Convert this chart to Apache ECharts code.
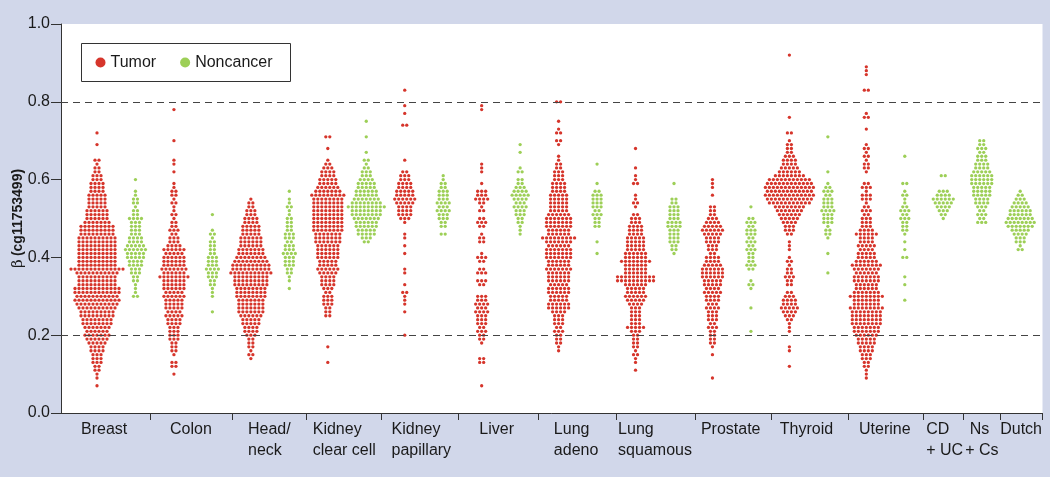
<!DOCTYPE html>
<html><head><meta charset="utf-8">
<script src="https://cdn.jsdelivr.net/npm/echarts@6/dist/echarts.min.js"></script>
<style>html,body{margin:0;padding:0;background:#d1d7ea;}#c{width:1050px;height:477px;}</style>
</head><body><div id="c"></div>
<script>
// ---------------- data ----------------
const categories = ['Breast','Colon','Head/\nneck','Kidney\nclear cell','Kidney\npapillary','Liver','Lung\nadeno','Lung\nsquamous','Prostate','Thyroid','Uterine','CD\n+ UC',' Ns\n+ Cs','Dutch'];
const yTicks = [0.0, 0.2, 0.4, 0.6, 0.8, 1.0];
const thresholds = [0.2, 0.8];
// each entry: [beta value, number of samples at that value]
const breastTumor = [[0.07,1],[0.09,1],[0.10,1],[0.11,2],[0.12,2],[0.13,3],[0.14,3],[0.15,3],[0.16,4],[0.17,4],[0.18,5],[0.19,6],[0.20,7],[0.21,6],[0.22,7],[0.23,8],[0.24,8],[0.25,9],[0.26,9],[0.27,10],[0.28,11],[0.29,12],[0.30,11],[0.31,12],[0.32,12],[0.33,10],[0.34,10],[0.35,10],[0.36,11],[0.37,14],[0.38,10],[0.39,10],[0.40,10],[0.41,10],[0.42,10],[0.43,10],[0.44,10],[0.45,10],[0.46,9],[0.47,9],[0.48,9],[0.49,7],[0.50,6],[0.51,6],[0.52,6],[0.53,5],[0.54,5],[0.55,5],[0.56,5],[0.57,4],[0.58,4],[0.59,4],[0.60,3],[0.61,3],[0.62,2],[0.63,2],[0.64,1],[0.65,2],[0.69,1],[0.72,1]];
const colonTumor = [[0.10,1],[0.12,2],[0.13,2],[0.15,1],[0.16,2],[0.17,2],[0.18,2],[0.19,3],[0.20,3],[0.21,3],[0.22,3],[0.23,4],[0.24,4],[0.25,5],[0.26,4],[0.27,5],[0.28,5],[0.29,5],[0.30,6],[0.31,5],[0.32,6],[0.33,6],[0.34,6],[0.35,8],[0.36,6],[0.37,7],[0.38,6],[0.39,6],[0.40,6],[0.41,5],[0.42,6],[0.43,4],[0.44,3],[0.45,3],[0.46,2],[0.47,3],[0.48,2],[0.49,2],[0.50,1],[0.51,2],[0.52,1],[0.53,1],[0.54,2],[0.55,1],[0.56,2],[0.57,2],[0.58,1],[0.59,1],[0.62,1],[0.64,1],[0.65,1],[0.70,1],[0.78,1]];
const headNeckTumor = [[0.14,1],[0.15,2],[0.16,1],[0.17,2],[0.18,2],[0.19,2],[0.20,3],[0.21,4],[0.22,4],[0.23,5],[0.24,5],[0.25,6],[0.26,7],[0.27,7],[0.28,7],[0.29,7],[0.30,8],[0.31,8],[0.32,8],[0.33,9],[0.34,9],[0.35,9],[0.36,11],[0.37,10],[0.38,10],[0.39,9],[0.40,8],[0.41,7],[0.42,7],[0.43,6],[0.44,6],[0.45,6],[0.46,5],[0.47,5],[0.48,5],[0.49,4],[0.50,4],[0.51,3],[0.52,3],[0.53,2],[0.54,2],[0.55,1]];
const kidneyClearTumor = [[0.13,1],[0.17,1],[0.25,2],[0.26,2],[0.27,2],[0.28,3],[0.29,3],[0.30,3],[0.31,2],[0.32,3],[0.33,4],[0.34,4],[0.35,4],[0.36,5],[0.37,6],[0.38,5],[0.39,5],[0.40,6],[0.41,6],[0.42,6],[0.43,6],[0.44,7],[0.45,7],[0.46,7],[0.47,8],[0.48,8],[0.49,8],[0.50,8],[0.51,8],[0.52,8],[0.53,8],[0.54,8],[0.55,8],[0.56,9],[0.57,7],[0.58,6],[0.59,5],[0.60,5],[0.61,4],[0.62,4],[0.63,3],[0.64,2],[0.65,1],[0.68,1],[0.71,2]];
const kidneyPapTumor = [[0.20,1],[0.26,1],[0.28,1],[0.29,1],[0.30,1],[0.31,2],[0.33,1],[0.36,1],[0.37,1],[0.41,1],[0.43,1],[0.45,1],[0.46,1],[0.49,1],[0.50,3],[0.51,4],[0.52,4],[0.53,4],[0.54,5],[0.55,6],[0.56,5],[0.57,5],[0.58,4],[0.59,4],[0.60,3],[0.61,3],[0.62,2],[0.65,1],[0.74,2],[0.77,1],[0.79,1],[0.83,1]];
const liverTumor = [[0.07,1],[0.13,2],[0.14,2],[0.18,1],[0.19,2],[0.20,2],[0.21,3],[0.22,2],[0.23,3],[0.24,3],[0.25,3],[0.26,4],[0.27,3],[0.28,4],[0.29,3],[0.30,3],[0.33,2],[0.34,3],[0.36,3],[0.37,2],[0.39,2],[0.40,3],[0.41,1],[0.44,2],[0.45,2],[0.46,1],[0.48,2],[0.49,3],[0.50,2],[0.52,2],[0.53,1],[0.54,2],[0.55,4],[0.56,3],[0.57,3],[0.59,1],[0.62,1],[0.63,1],[0.64,1],[0.78,1],[0.79,1]];
const lungAdenoTumor = [[0.16,1],[0.17,1],[0.18,2],[0.19,2],[0.20,2],[0.21,3],[0.22,2],[0.23,3],[0.24,3],[0.25,3],[0.26,4],[0.27,6],[0.28,6],[0.29,5],[0.30,5],[0.31,6],[0.32,6],[0.33,5],[0.34,6],[0.35,6],[0.36,6],[0.37,7],[0.38,6],[0.39,6],[0.40,7],[0.41,7],[0.42,7],[0.43,6],[0.44,7],[0.45,9],[0.46,6],[0.47,6],[0.48,7],[0.49,7],[0.50,7],[0.51,6],[0.52,5],[0.53,5],[0.54,5],[0.55,5],[0.56,5],[0.57,4],[0.58,4],[0.59,4],[0.60,3],[0.61,3],[0.62,3],[0.63,2],[0.64,2],[0.65,1],[0.66,1],[0.69,1],[0.70,2],[0.72,2],[0.73,1],[0.75,1],[0.80,2]];
const lungSqTumor = [[0.11,1],[0.13,1],[0.14,1],[0.15,2],[0.16,1],[0.17,2],[0.18,2],[0.19,2],[0.20,2],[0.21,3],[0.22,5],[0.23,3],[0.24,3],[0.25,3],[0.26,3],[0.27,3],[0.28,4],[0.29,5],[0.30,6],[0.31,5],[0.32,5],[0.33,6],[0.34,10],[0.35,10],[0.36,6],[0.37,6],[0.38,6],[0.39,8],[0.40,6],[0.41,6],[0.42,5],[0.43,5],[0.44,5],[0.45,5],[0.46,4],[0.47,4],[0.48,4],[0.49,3],[0.50,3],[0.51,2],[0.53,1],[0.54,2],[0.55,1],[0.56,1],[0.59,2],[0.60,1],[0.61,1],[0.63,1],[0.68,1]];
const prostateTumor = [[0.09,1],[0.15,1],[0.17,1],[0.18,2],[0.19,2],[0.20,2],[0.21,2],[0.22,3],[0.23,2],[0.24,3],[0.25,3],[0.26,3],[0.27,4],[0.28,3],[0.29,4],[0.30,4],[0.31,5],[0.32,4],[0.33,5],[0.34,5],[0.35,6],[0.36,6],[0.37,6],[0.38,5],[0.39,4],[0.40,4],[0.41,2],[0.42,3],[0.43,3],[0.44,4],[0.45,4],[0.46,5],[0.47,6],[0.48,5],[0.49,4],[0.50,3],[0.51,2],[0.52,2],[0.53,2],[0.56,1],[0.58,1],[0.59,1],[0.60,1]];
const thyroidTumor = [[0.12,1],[0.16,1],[0.17,1],[0.21,1],[0.22,1],[0.23,1],[0.24,2],[0.25,3],[0.26,4],[0.27,5],[0.28,4],[0.29,4],[0.30,3],[0.31,2],[0.33,2],[0.34,2],[0.35,3],[0.36,2],[0.37,2],[0.38,1],[0.39,2],[0.40,1],[0.42,1],[0.43,1],[0.44,1],[0.46,2],[0.47,3],[0.48,3],[0.49,4],[0.50,5],[0.51,6],[0.52,7],[0.53,8],[0.54,11],[0.55,12],[0.56,13],[0.57,12],[0.58,13],[0.59,12],[0.60,11],[0.61,8],[0.62,6],[0.63,5],[0.64,4],[0.65,4],[0.66,3],[0.67,2],[0.68,2],[0.69,2],[0.70,1],[0.72,2],[0.76,1],[0.92,1]];
const uterineTumor = [[0.09,1],[0.10,1],[0.11,1],[0.12,2],[0.13,2],[0.14,3],[0.15,3],[0.16,4],[0.17,4],[0.18,5],[0.19,5],[0.20,6],[0.21,7],[0.22,7],[0.23,8],[0.24,8],[0.25,8],[0.26,8],[0.27,9],[0.28,7],[0.29,7],[0.30,9],[0.31,7],[0.32,6],[0.33,6],[0.34,7],[0.35,7],[0.36,6],[0.37,7],[0.38,8],[0.39,6],[0.40,5],[0.41,5],[0.42,4],[0.43,5],[0.44,4],[0.45,4],[0.46,6],[0.47,4],[0.48,3],[0.49,3],[0.50,3],[0.51,2],[0.52,3],[0.53,2],[0.54,1],[0.55,3],[0.56,3],[0.57,1],[0.58,3],[0.59,2],[0.62,1],[0.63,2],[0.64,2],[0.65,1],[0.66,2],[0.67,1],[0.68,2],[0.69,1],[0.73,1],[0.76,2],[0.77,1],[0.83,2],[0.87,1],[0.88,1],[0.89,1]];

const breastNormal = [[0.30,2],[0.31,1],[0.32,1],[0.33,1],[0.34,2],[0.35,2],[0.36,3],[0.37,3],[0.38,4],[0.39,4],[0.40,5],[0.41,5],[0.42,6],[0.43,5],[0.44,4],[0.45,4],[0.46,3],[0.47,3],[0.48,3],[0.49,3],[0.50,4],[0.51,2],[0.52,2],[0.53,1],[0.54,2],[0.55,2],[0.56,1],[0.57,1],[0.60,1]];
const colonNormal = [[0.26,1],[0.30,1],[0.31,1],[0.32,1],[0.33,2],[0.34,2],[0.35,3],[0.36,3],[0.37,4],[0.38,3],[0.39,3],[0.40,3],[0.41,2],[0.42,2],[0.43,2],[0.44,2],[0.45,1],[0.46,2],[0.47,1],[0.51,1]];
const headNeckNormal = [[0.32,1],[0.34,1],[0.35,1],[0.36,2],[0.37,2],[0.38,3],[0.39,3],[0.40,3],[0.41,4],[0.42,3],[0.43,3],[0.44,2],[0.45,3],[0.46,3],[0.47,2],[0.48,2],[0.49,2],[0.50,2],[0.51,1],[0.52,1],[0.53,2],[0.54,1],[0.55,1],[0.57,1]];
const kidneyClearNormal = [[0.44,2],[0.45,3],[0.46,5],[0.47,5],[0.48,6],[0.49,6],[0.50,7],[0.51,8],[0.52,8],[0.53,10],[0.54,8],[0.55,7],[0.56,6],[0.57,6],[0.58,5],[0.59,5],[0.60,4],[0.61,3],[0.62,3],[0.63,2],[0.64,1],[0.65,2],[0.67,1],[0.71,1],[0.75,1]];
const kidneyPapNormal = [[0.46,2],[0.48,2],[0.49,2],[0.50,3],[0.51,3],[0.52,4],[0.53,3],[0.54,4],[0.55,3],[0.56,3],[0.57,3],[0.58,2],[0.59,2],[0.60,1],[0.61,1]];
const liverNormal = [[0.46,1],[0.47,1],[0.48,1],[0.49,2],[0.50,2],[0.51,3],[0.52,3],[0.53,4],[0.54,3],[0.55,4],[0.56,5],[0.57,4],[0.58,3],[0.59,2],[0.60,2],[0.62,2],[0.63,1],[0.67,1],[0.69,1]];
const lungAdenoNormal = [[0.41,1],[0.44,1],[0.48,2],[0.49,2],[0.50,2],[0.51,3],[0.52,2],[0.53,3],[0.54,3],[0.55,3],[0.56,3],[0.57,2],[0.59,1],[0.64,1]];
const lungSqNormal = [[0.41,1],[0.42,2],[0.43,2],[0.44,3],[0.45,3],[0.46,3],[0.47,3],[0.48,4],[0.49,4],[0.50,3],[0.51,3],[0.52,3],[0.53,3],[0.54,2],[0.55,2],[0.59,1]];
const prostateNormal = [[0.21,1],[0.27,1],[0.32,1],[0.33,2],[0.34,1],[0.37,2],[0.38,3],[0.39,2],[0.40,2],[0.41,2],[0.42,3],[0.43,2],[0.44,3],[0.45,2],[0.46,3],[0.47,3],[0.48,2],[0.49,3],[0.50,2],[0.53,1]];
const thyroidNormal = [[0.36,1],[0.41,1],[0.45,1],[0.46,2],[0.47,2],[0.48,1],[0.49,3],[0.50,3],[0.51,3],[0.52,4],[0.53,3],[0.54,3],[0.55,3],[0.56,2],[0.57,3],[0.58,2],[0.59,1],[0.62,1],[0.71,1]];
const uterineNormal = [[0.29,1],[0.33,1],[0.35,1],[0.40,2],[0.42,1],[0.44,1],[0.46,1],[0.47,2],[0.48,2],[0.49,2],[0.50,3],[0.51,2],[0.52,3],[0.53,2],[0.54,1],[0.55,1],[0.56,2],[0.57,1],[0.59,2],[0.66,1]];
const cdUcNormal = [[0.50,1],[0.51,2],[0.52,3],[0.53,4],[0.54,5],[0.55,6],[0.56,4],[0.57,3],[0.61,2]];
const nsCsNormal = [[0.49,3],[0.50,2],[0.51,3],[0.52,2],[0.53,3],[0.54,4],[0.55,4],[0.56,5],[0.57,5],[0.58,5],[0.59,6],[0.60,6],[0.61,6],[0.62,5],[0.63,4],[0.64,4],[0.65,3],[0.66,3],[0.67,2],[0.68,3],[0.69,2],[0.70,2]];
const dutchNormal = [[0.42,2],[0.43,1],[0.44,3],[0.45,3],[0.46,4],[0.47,5],[0.48,7],[0.49,8],[0.50,7],[0.51,6],[0.52,6],[0.53,5],[0.54,4],[0.55,3],[0.56,2],[0.57,1]];

const tumorGroups = [breastTumor, colonTumor, headNeckTumor, kidneyClearTumor, kidneyPapTumor, liverTumor, lungAdenoTumor, lungSqTumor, prostateTumor, thyroidTumor, uterineTumor];
const noncancerGroups = [breastNormal, colonNormal, headNeckNormal, kidneyClearNormal, kidneyPapNormal, liverNormal, lungAdenoNormal, lungSqNormal, prostateNormal, thyroidNormal, uterineNormal, cdUcNormal, nsCsNormal, dutchNormal];

// ---------------- layout (x axis in "column" units, one column per swarm) ----------------
const separatorPos = [1.396, 3.505, 5.438, 7.401, 9.396, 11.47, 13.497, 15.549, 17.531, 19.53, 21.477, 22.51, 23.49, 24.58];
const labelStartPos = [-0.416, 1.898, 3.926, 5.608, 7.657, 9.94, 11.877, 13.547, 15.70, 17.75, 19.81, 21.555, 22.57, 23.48];
const X_MIN = -0.936, X_MAX = 24.58;
const GRID_LEFT = 61, GRID_RIGHT = 7.5;
const PX_PER_COL = (1050 - GRID_LEFT - GRID_RIGHT) / (X_MAX - X_MIN);
const DOT_GAP = 4.0 / PX_PER_COL;

function swarm(groups, colOf) {
  const pts = [];
  groups.forEach((g, i) => {
    const c = colOf(i);
    g.forEach(([v, n]) => {
      for (let k = 0; k < n; k++) pts.push([c + (k - (n - 1) / 2) * DOT_GAP, v]);
    });
  });
  return pts;
}
const tumorPts = swarm(tumorGroups, i => 2 * i);
const normalPts = swarm(noncancerGroups, i => (i < 11 ? 2 * i + 1 : 11 + i));

const RED = '#d6352b', GREEN = '#9dcf57';
const FONT = 'Liberation Sans, Arial, sans-serif';
const chart = echarts.init(document.getElementById('c'), null, {renderer: 'canvas'});
chart.setOption({
  animation: false,
  backgroundColor: '#d1d7ea',
  grid: {left: GRID_LEFT, right: GRID_RIGHT, top: 24, bottom: 64, show: true, backgroundColor: '#ffffff', borderWidth: 0,
    containLabel: false, outerBoundsMode: 'none'},
  legend: {
    data: ['Tumor', 'Noncancer'], left: 81.5, top: 43.5, orient: 'horizontal',
    padding: [11, 18, 11, 14], itemGap: 24, itemWidth: 10, itemHeight: 10, icon: 'circle',
    borderColor: '#333', borderWidth: 1, backgroundColor: '#fff', selectedMode: false,
    textStyle: {fontFamily: FONT, fontSize: 16, color: '#1a1a1a'}
  },
  xAxis: {
    type: 'value', min: X_MIN, max: X_MAX, scale: true,
    splitLine: {show: false},
    axisLine: {show: true, onZero: false, lineStyle: {color: '#333', width: 1}},
    axisTick: {show: true, length: 7, lineStyle: {color: '#333'}, customValues: separatorPos},
    axisLabel: {
      show: true, customValues: labelStartPos, align: 'left', margin: 6,
      fontFamily: FONT, fontSize: 16, lineHeight: 21, color: '#1a1a1a',
      formatter: v => { const i = labelStartPos.findIndex(p => Math.abs(p - v) < 1e-6); return i >= 0 ? categories[i] : ''; }
    }
  },
  yAxis: {
    type: 'value', min: 0, max: 1, interval: 0.2,
    name: '{b|β} {t|(cg11753499)}', nameLocation: 'middle', nameRotate: 90, nameGap: 35, nameMoveOverlap: false,
    nameTextStyle: {rich: {
      b: {fontFamily: 'DejaVu Serif, serif', fontSize: 15, color: '#1a1a1a'},
      t: {fontFamily: FONT, fontSize: 14, fontWeight: 'bold', color: '#1a1a1a'}
    }},
    splitLine: {show: false},
    axisLine: {show: true, onZero: false, lineStyle: {color: '#333', width: 1}},
    axisTick: {show: true, length: 10, lineStyle: {color: '#333'}},
    axisLabel: {margin: 11, fontFamily: FONT, fontSize: 16, color: '#1a1a1a',
      formatter: v => yTicks.find(t => Math.abs(t - v) < 1e-9).toFixed(1)}
  },
  series: [
    {type: 'scatter', data: [], z: 1, silent: true,
      markLine: {silent: true, symbol: 'none', label: {show: false},
        lineStyle: {type: [7, 5], color: '#444', width: 1.2},
        data: thresholds.map(t => ({yAxis: t}))}},
    {name: 'Tumor', type: 'scatter', data: tumorPts, symbol: 'circle', symbolSize: 3.3, z: 3,
      itemStyle: {color: RED, opacity: 1}, silent: true},
    {name: 'Noncancer', type: 'scatter', data: normalPts, symbol: 'circle', symbolSize: 3.3, z: 3,
      itemStyle: {color: GREEN, opacity: 1}, silent: true}
  ]
});
</script></body></html>
